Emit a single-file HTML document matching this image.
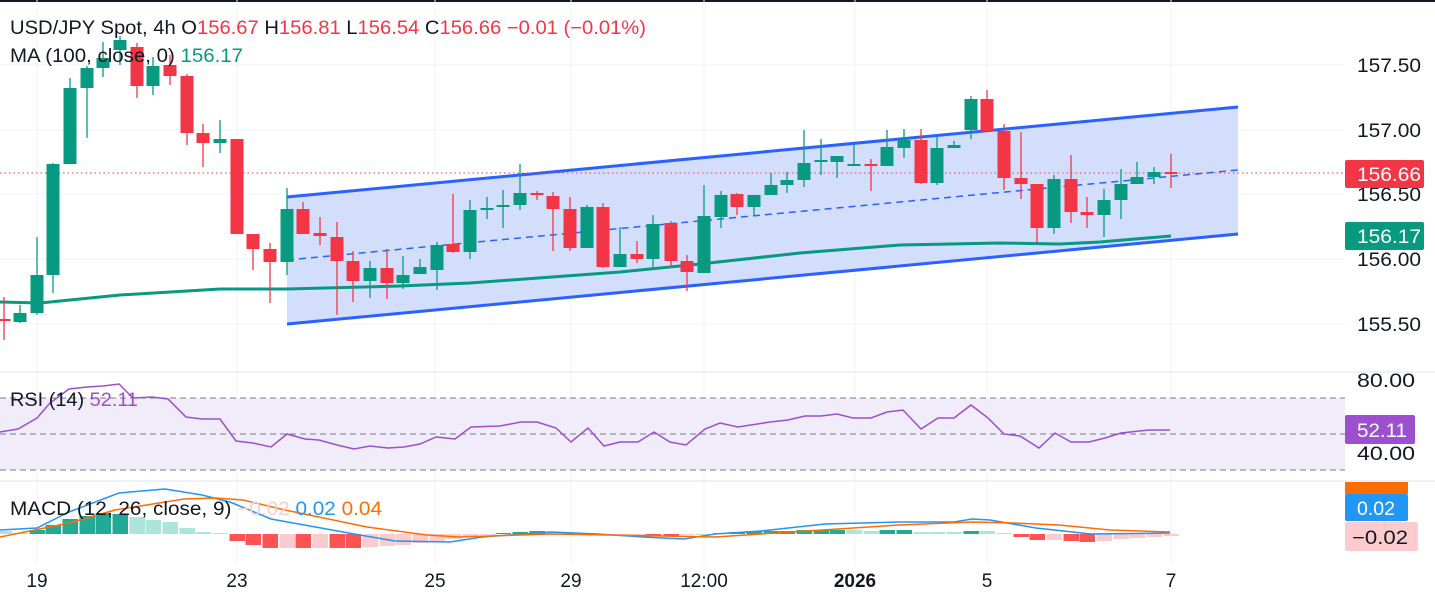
<!DOCTYPE html><html><head><meta charset="utf-8"><style>
body{margin:0;background:#fff;width:1435px;height:601px;overflow:hidden;font-family:"Liberation Sans",sans-serif}
svg{display:block}
text{font-family:"Liberation Sans",sans-serif}
</style></head><body>
<svg id="s" width="1435" height="601" xmlns="http://www.w3.org/2000/svg"></svg>
<script>
const s=document.getElementById('s');let h='';
const G='#089981',R='#f23645';
const LA='lengthAdjust="spacingAndGlyphs"';
h+='<rect x="0" y="0" width="1435" height="2" fill="#131722"/>';
[65,130,194,259,324].forEach(y=>h+=`<line x1="0" x2="1345" y1="${y}" y2="${y}" stroke="#f0f3fa"/>`);
[37,237,435,571,704,855,987,1171].forEach(x=>h+=`<line x1="${x}" x2="${x}" y1="0" y2="565" stroke="#f0f3fa"/>`);
h+='<polygon points="287,197 1238,107 1238,234 287,324" fill="#d3defd"/>';
h+='<line x1="287" y1="197" x2="1238" y2="107" stroke="#2962ff" stroke-width="3"/>';
h+='<line x1="287" y1="324" x2="1238" y2="234" stroke="#2962ff" stroke-width="3"/>';
h+='<line x1="287" y1="260" x2="1238" y2="170" stroke="#2962ff" stroke-width="1.5" stroke-dasharray="7,5"/>';
h+='<polyline fill="none" stroke="#089981" stroke-width="3" points="0,302 40,303 120,295 220,289 287,289 400,286 470,283 620,272 700,264 800,253 900,245 1000,243 1060,244 1100,242 1171,236"/>';
h+='<line x1="0" x2="1345" y1="173" y2="173" stroke="#f23645" stroke-dasharray="1.5,3"/>';
const C=[[4,319,320,297,340],[20,322,313,305,323],[37,313,275,237,315],[53,275,164,163,293],[70,164,88,78,164],[87,88,68,66,138],[103,68,58,42,77],[120,50,40,36,65],[137,47,86,43,98],[153,86,66,57,95],[170,65,76,55,85],[187,76,133,74,145],[203,133,143,124,167],[220,143,139,120,153],[237,139,234,139,234],[253,234,249,234,270],[270,249,262,243,303],[287,262,209,188,275],[303,209,234,202,234],[320,233,236,217,245],[337,237,261,222,315],[353,261,281,251,302],[370,281,268,261,298],[387,268,283,249,299],[403,283,275,256,289],[420,274,267,259,274],[437,270,245,242,290],[453,244,252,194,253],[470,252,210,200,259],[487,210,208,197,219],[503,206,205,190,228],[520,205,193,164,210],[537,193,194,191,200],[553,196,209,192,251],[570,209,248,197,251],[587,248,207,205,248],[603,207,267,203,268],[620,267,254,227,267],[637,254,259,241,263],[653,259,224,215,267],[671,223,261,221,268],[687,261,272,255,291],[704,273,216,185,273],[721,217,195,191,228],[737,194,207,193,215],[754,207,195,195,216],[771,195,185,173,195],[787,185,180,172,193],[804,180,163,130,187],[821,161,160,139,175],[837,162,156,156,178],[854,166,164,143,166],[871,164,165,159,191],[887,166,147,130,166],[904,148,140,129,158],[921,140,183,129,184],[937,183,148,136,185],[954,148,145,141,148],[971,130,99,96,139],[987,99,131,90,131],[1004,131,178,124,190],[1021,178,184,132,199],[1037,184,228,184,243],[1054,228,179,175,234],[1071,179,212,155,223],[1087,212,215,197,228],[1104,215,200,189,237],[1121,200,184,169,219],[1137,184,177,162,184],[1154,177,172,167,184],[1171,172,173,154,188]];
C.forEach(([x,o,c,hi,lo])=>{const col=c<o?G:R;const t=Math.min(o,c),b=Math.max(o,c);
h+=`<line x1="${x}" x2="${x}" y1="${hi}" y2="${lo}" stroke="${col}" stroke-width="1.3"/>`;
h+=`<rect x="${x-6.5}" y="${t}" width="13" height="${Math.max(b-t,2)}" fill="${col}"/>`;});
h+=`<text x="10" y="34" font-size="19" fill="#131722" textLength="636" ${LA}>USD/JPY Spot, 4h  O<tspan fill="${R}">156.67</tspan>  H<tspan fill="${R}">156.81</tspan>  L<tspan fill="${R}">156.54</tspan>  C<tspan fill="${R}">156.66</tspan>  <tspan fill="${R}">−0.01 (−0.01%)</tspan></text>`;
h+=`<text x="10" y="62" font-size="19" fill="#131722" textLength="233" ${LA}>MA (100, close, 0)  <tspan fill="${G}">156.17</tspan></text>`;
[[65,'157.50'],[130,'157.00'],[194,'156.50'],[259,'156.00'],[324,'155.50']].forEach(([y,t])=>h+=`<text x="1357" y="${y+7}" font-size="19" fill="#131722" textLength="64" ${LA}>${t}</text>`);
h+=`<rect x="1345" y="160" width="79" height="28" rx="2" fill="${R}"/><text x="1357" y="181" font-size="19" fill="#fff" textLength="64" ${LA}>156.66</text>`;
h+=`<rect x="1345" y="222" width="79" height="28" rx="2" fill="${G}"/><text x="1357" y="243" font-size="19" fill="#fff" textLength="64" ${LA}>156.17</text>`;
h+='<line x1="0" x2="1435" y1="372" y2="372" stroke="#e0e3eb"/><line x1="0" x2="1435" y1="481" y2="481" stroke="#e0e3eb"/>';
h+='<rect x="0" y="398" width="1345" height="72" fill="#f1ecf9"/>';
[398,434,470].forEach(y=>h+=`<line x1="0" x2="1345" y1="${y}" y2="${y}" stroke="#787b86" stroke-dasharray="6,4"/>`);
h+='<polyline fill="none" stroke="#9c4fcf" stroke-width="1.5" points="0,432 18,429 37,418 50,403 69,389 87,387 103,386 119,384 133,398 152,397 168,399 186,417 202,419 220,419 236,441 253,443 271,447 287,434 305,439 319,440 337,445 354,449 370,446 388,448 404,447 420,444 436,437 455,439 471,427 500,426 521,422 537,422 556,428 571,442 588,428 604,446 620,442 638,442 654,432 670,442 686,445 705,429 720,423 738,427 770,422 788,420 805,416 821,416 837,414 853,418 871,418 887,412 903,410 921,429 938,418 954,418 971,405 988,418 1004,434 1020,436 1039,448 1055,433 1071,442 1089,442 1105,438 1121,433 1149,430 1170,430"/>';
h+=`<text x="10" y="406" font-size="19" fill="#131722" textLength="128" ${LA}>RSI (14)  <tspan fill="#9c4fcf">52.11</tspan></text>`;
h+=`<text x="1357" y="387" font-size="19" fill="#131722" textLength="58" ${LA}>80.00</text><text x="1357" y="460" font-size="19" fill="#131722" textLength="58" ${LA}>40.00</text>`;
h+=`<rect x="1345" y="415" width="70" height="29" rx="2" fill="#9c4fcf"/><text x="1357" y="437" font-size="19" fill="#fff" textLength="50" ${LA}>52.11</text>`;
const Z=534;const HG=[[4,-3,'l'],[20,-1,'l'],[37,-4,'g'],[53,-9,'g'],[70,-15,'g'],[87,-18,'g'],[103,-21,'g'],[120,-20,'g'],[137,-17,'l'],[153,-14,'l'],[170,-12,'l'],[187,-6,'l'],[203,-2,'l'],[220,-1,'l'],[237,7,'r'],[253,11,'r'],[270,14,'r'],[287,14,'p'],[303,14,'r'],[320,14,'p'],[337,14,'r'],[353,14,'r'],[370,13,'p'],[387,12,'p'],[403,11,'p'],[420,9,'p'],[437,7,'p'],[453,5,'p'],[470,3,'p'],[487,1,'p'],[503,-1,'g'],[520,-2,'g'],[537,-3,'g'],[553,-2,'l'],[570,-1,'l'],[587,-1,'l'],[603,0,'l'],[620,1,'p'],[637,1,'p'],[653,2,'r'],[671,2,'r'],[687,1,'p'],[704,0,'l'],[721,-1,'g'],[737,-2,'g'],[754,-3,'g'],[771,-3,'g'],[787,-3,'g'],[804,-4,'g'],[821,-4,'g'],[837,-4,'g'],[854,-4,'l'],[871,-3,'l'],[887,-4,'g'],[904,-4,'g'],[921,-2,'l'],[937,-2,'l'],[954,-2,'l'],[971,-3,'g'],[987,-3,'l'],[1004,-1,'l'],[1021,3,'r'],[1037,6,'r'],[1054,6,'p'],[1071,7,'r'],[1087,8,'r'],[1104,7,'p'],[1121,5,'p'],[1137,4,'p'],[1154,3,'p'],[1171,2,'p']];
const cm={g:'#22ab94',l:'#ace5dc',r:'#ff5252',p:'#fccbcd'};
HG.forEach(([x,v,c])=>{const y=v<0?Z+v:Z;h+=`<rect x="${x-7.5}" y="${y}" width="15.5" height="${Math.max(Math.abs(v),1)}" fill="${cm[c]}"/>`;});
h+='<polyline fill="none" stroke="#2196f3" stroke-width="1.5" points="0,530 37,528 69,512 119,493 165,489 202,495 230,502 271,519 321,528 354,534 395,541 450,542 482,537 551,532 597,534 643,537 684,539 715,534 761,531 825,524 899,522 954,522 972,519 990,520 1036,528 1091,534 1170,533"/>';
h+='<polyline fill="none" stroke="#ff6d00" stroke-width="1.5" points="0,537 69,523 115,510 184,499 216,498 243,500 285,510 367,527 427,535 459,537 551,534 715,537 807,531 899,525 972,522 1013,523 1059,525 1110,530 1170,532"/>';
h+=`<text x="10" y="515" font-size="19" fill="#131722" textLength="372" ${LA}>MACD (12, 26, close, 9)  <tspan fill="#fccbcd">−0.02</tspan>  <tspan fill="#2196f3">0.02</tspan>  <tspan fill="#ff6d00">0.04</tspan></text>`;
h+='<rect x="1345" y="482" width="63" height="12" fill="#ff6d00"/>';
h+=`<rect x="1345" y="494" width="63" height="27" rx="2" fill="#2196f3"/><text x="1357" y="515" font-size="19" fill="#fff" textLength="38" ${LA}>0.02</text>`;
h+=`<rect x="1345" y="522" width="73" height="29" rx="2" fill="#fccbcd"/><text x="1352" y="544" font-size="19" fill="#131722" textLength="56" ${LA}>−0.02</text>`;
[[37,'19'],[237,'23'],[435,'25'],[571,'29'],[704,'12:00'],[855,'2026'],[987,'5'],[1171,'7']].forEach(([x,t])=>h+=`<text x="${x}" y="587" font-size="19" text-anchor="middle" fill="#131722"${t=='2026'?' font-weight="bold"':''}>${t}</text>`);
s.innerHTML=h;
</script>
</body></html>
